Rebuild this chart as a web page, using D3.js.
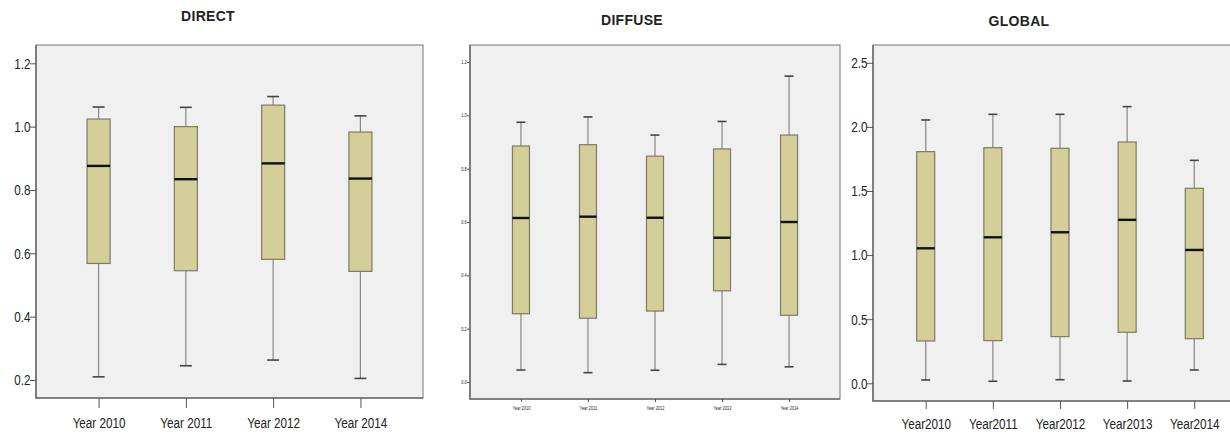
<!DOCTYPE html>
<html>
<head>
<meta charset="utf-8">
<style>
  body { margin: 0; background: #fff; }
  svg { display: block; }
  .title { font-family: "Liberation Sans", Arial, sans-serif; font-weight: bold; font-size: 14px; fill: #222; letter-spacing: 0.3px; }
  .tick text { font-family: "Liberation Sans", Arial, sans-serif; fill: #222; }
</style>
</head>
<body>
<svg width="1230" height="436"></svg>
<script src="https://cdn.jsdelivr.net/npm/d3@7"></script>
<script>
// DIRECT
var directYears = ["Year 2010", "Year 2011", "Year 2012", "Year 2014"];
var directMin = [0.21, 0.245, 0.263, 0.205];
var directQ1 = [0.568, 0.545, 0.581, 0.543];
var directMed = [0.876, 0.834, 0.884, 0.836];
var directQ3 = [1.024, 1.0, 1.068, 0.983];
var directMax = [1.062, 1.061, 1.095, 1.034];
var directTicks = [0.2, 0.4, 0.6, 0.8, 1.0, 1.2];

// DIFFUSE
var diffuseYears = ["Year 2010", "Year 2011", "Year 2012", "Year 2013", "Year 2014"];
var diffuseMin = [0.045, 0.035, 0.044, 0.066, 0.057];
var diffuseQ1 = [0.256, 0.239, 0.266, 0.342, 0.25];
var diffuseMed = [0.615, 0.62, 0.616, 0.541, 0.6];
var diffuseQ3 = [0.885, 0.89, 0.847, 0.874, 0.926];
var diffuseMax = [0.974, 0.994, 0.926, 0.977, 1.147];
var diffuseTicks = [0.0, 0.2, 0.4, 0.6, 0.8, 1.0, 1.2];

// GLOBAL
var globalYears = ["Year2010", "Year2011", "Year2012", "Year2013", "Year2014"];
var globalMin = [0.026, 0.016, 0.028, 0.018, 0.104];
var globalQ1 = [0.33, 0.333, 0.364, 0.398, 0.348];
var globalMed = [1.053, 1.139, 1.178, 1.275, 1.04];
var globalQ3 = [1.807, 1.838, 1.833, 1.882, 1.521];
var globalMax = [2.054, 2.098, 2.098, 2.158, 1.739];
var globalTicks = [0.0, 0.5, 1.0, 1.5, 2.0, 2.5];

var svg = d3.select("svg");

function panel(opt) {
  var x = d3.scalePoint().domain(opt.cats).range([opt.left, opt.right]).padding(opt.pad);
  var y = d3.scaleLinear().domain(opt.ydom).range(opt.yrange);
  var g = svg.append("g");

  g.append("rect")
    .attr("x", opt.left).attr("y", opt.top)
    .attr("width", opt.right - opt.left).attr("height", opt.bottom - opt.top)
    .attr("fill", "#f0f0f0").attr("stroke", "#8a8a8a").attr("stroke-width", 1.2);
  // darker axis edges (left and bottom)
  g.append("path")
    .attr("d", "M" + opt.left + "," + opt.top + "V" + opt.bottom + "H" + opt.right)
    .attr("fill", "none").attr("stroke", "#707070").attr("stroke-width", 1.6);

  g.append("text").attr("class", "title")
    .attr("x", opt.titleX).attr("y", opt.titleY)
    .attr("text-anchor", "middle").text(opt.title);

  var rows = opt.cats.map(function(c, i) {
    return {c: c, lo: opt.min[i], q1: opt.q1[i], med: opt.med[i], q3: opt.q3[i], hi: opt.max[i]};
  });
  var bw = opt.boxW;
  var b = g.selectAll(".box").data(rows).enter().append("g").attr("class", "box");

  b.append("line")
    .attr("x1", function(d) { return x(d.c); }).attr("x2", function(d) { return x(d.c); })
    .attr("y1", function(d) { return y(d.hi); }).attr("y2", function(d) { return y(d.lo); })
    .attr("stroke", "#888").attr("stroke-width", 1.2);
  b.append("line")
    .attr("x1", function(d) { return x(d.c) - opt.capW / 2; }).attr("x2", function(d) { return x(d.c) + opt.capW / 2; })
    .attr("y1", function(d) { return y(d.hi); }).attr("y2", function(d) { return y(d.hi); })
    .attr("stroke", "#444").attr("stroke-width", 1.6);
  b.append("line")
    .attr("x1", function(d) { return x(d.c) - opt.capW / 2; }).attr("x2", function(d) { return x(d.c) + opt.capW / 2; })
    .attr("y1", function(d) { return y(d.lo); }).attr("y2", function(d) { return y(d.lo); })
    .attr("stroke", "#444").attr("stroke-width", 1.6);
  b.append("rect")
    .attr("x", function(d) { return x(d.c) - bw / 2; })
    .attr("y", function(d) { return y(d.q3); })
    .attr("width", bw)
    .attr("height", function(d) { return y(d.q1) - y(d.q3); })
    .attr("fill", "#d4cf98").attr("stroke", "#7d7a66").attr("stroke-width", 1.2);
  b.append("line")
    .attr("x1", function(d) { return x(d.c) - bw / 2; }).attr("x2", function(d) { return x(d.c) + bw / 2; })
    .attr("y1", function(d) { return y(d.med); }).attr("y2", function(d) { return y(d.med); })
    .attr("stroke", "#111").attr("stroke-width", 2.4);

  var ya = g.append("g").attr("transform", "translate(" + opt.left + ",0)")
    .call(d3.axisLeft(y).tickValues(opt.ticks).tickSize(opt.tick).tickPadding(1).tickFormat(d3.format(".1f")));
  ya.select(".domain").remove();
  ya.selectAll(".tick line").attr("stroke", "#555");
  ya.selectAll(".tick text").style("font-size", opt.yFont + "px")
    .attr("transform", "scale(" + opt.squeeze + ",1)");

  var xa = g.append("g").attr("transform", "translate(0," + opt.bottom + ")")
    .call(d3.axisBottom(x).tickSize(opt.xtick).tickPadding(opt.xpad));
  xa.select(".domain").remove();
  xa.selectAll(".tick line").attr("stroke", "#555");
  xa.selectAll(".tick text").style("font-size", opt.xFont + "px")
    .attr("transform", "scale(" + opt.squeeze + ",1)");
}

panel({
  title: "DIRECT", titleX: 208, titleY: 21,
  cats: directYears, min: directMin, q1: directQ1, med: directMed, q3: directQ3, max: directMax,
  ticks: directTicks, ydom: [0.2, 1.2], yrange: [380, 63.3],
  left: 36, right: 423, top: 45, bottom: 398, pad: 0.717,
  boxW: 23, capW: 12, tick: 6, xtick: 10, xpad: 9, yFont: 15, xFont: 15, squeeze: 0.78
});

panel({
  title: "DIFFUSE", titleX: 632, titleY: 25,
  cats: diffuseYears, min: diffuseMin, q1: diffuseQ1, med: diffuseMed, q3: diffuseQ3, max: diffuseMax,
  ticks: diffuseTicks, ydom: [0, 1.2], yrange: [382, 62],
  left: 470, right: 840, top: 45, bottom: 399, pad: 0.76,
  boxW: 17, capW: 9, tick: 3, xtick: 3, xpad: 4, yFont: 5, xFont: 5, squeeze: 0.8
});

panel({
  title: "GLOBAL", titleX: 1019, titleY: 26,
  cats: globalYears, min: globalMin, q1: globalQ1, med: globalMed, q3: globalQ3, max: globalMax,
  ticks: globalTicks, ydom: [0, 2.5], yrange: [383.3, 62.8],
  left: 873, right: 1247, top: 45, bottom: 401, pad: 0.785,
  boxW: 18, capW: 9, tick: 6, xtick: 8, xpad: 9, yFont: 15, xFont: 15, squeeze: 0.78
});
</script>
</body>
</html>
